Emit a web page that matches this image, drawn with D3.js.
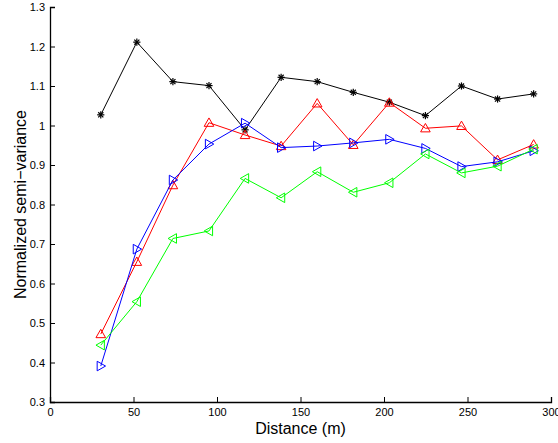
<!DOCTYPE html>
<html>
<head>
<meta charset="utf-8">
<script src="https://cdn.jsdelivr.net/npm/d3@7"></script>
<style>
  body { margin: 0; background: #fff; }
  svg text { font-family: "Liberation Sans", Arial, sans-serif; fill: #000; }
</style>
</head>
<body>
<svg id="chart" width="558" height="443"></svg>
<script>
// lag distances (m), shared by all series
const distances = [30.4, 52, 73.6, 95.2, 116.8, 138.4, 160, 181.6, 203.2, 224.8, 246.4, 268, 289.6];

const blackSeries = [1.027, 1.211, 1.111, 1.101, 0.989, 1.122, 1.111, 1.084, 1.059, 1.025, 1.100, 1.067, 1.080];
const redSeries   = [0.472, 0.655, 0.849, 1.007, 0.976, 0.948, 1.056, 0.951, 1.058, 0.993, 0.999, 0.913, 0.952];
const blueSeries  = [0.391, 0.687, 0.862, 0.953, 1.006, 0.944, 0.948, 0.956, 0.965, 0.942, 0.896, 0.908, 0.936];
const greenSeries = [0.444, 0.554, 0.714, 0.733, 0.866, 0.817, 0.883, 0.831, 0.855, 0.928, 0.880, 0.897, 0.940];

const xTicks = [0, 50, 100, 150, 200, 250, 300];
const yTicks = [0.3, 0.4, 0.5, 0.6, 0.7, 0.8, 0.9, 1, 1.1, 1.2, 1.3];

const series = [
  { values: blackSeries, color: '#000000', marker: 'star' },
  { values: redSeries,   color: '#ff0000', marker: 'up' },
  { values: blueSeries,  color: '#0000ff', marker: 'right' },
  { values: greenSeries, color: '#00ff00', marker: 'left' },
];

const svg = d3.select('#chart');
const plot = { left: 50, right: 551, top: 7, bottom: 402 };

const x = d3.scaleLinear().domain([0, 300]).range([plot.left, plot.right]);
const y = d3.scaleLinear().domain([0.3, 1.3]).range([plot.bottom, plot.top]);

// axes: MATLAB style, ticks pointing inward, no box
const xAxis = svg.append('g')
  .attr('transform', `translate(0,${plot.bottom})`)
  .call(d3.axisBottom(x).tickValues(xTicks).tickSize(-5).tickPadding(6).tickFormat(d3.format('d')));
const yAxis = svg.append('g')
  .attr('transform', `translate(${plot.left},0)`)
  .call(d3.axisLeft(y).tickValues(yTicks).tickSize(-5).tickPadding(5).tickFormat(d => String(+d.toFixed(1))));

[xAxis, yAxis].forEach(a => {
  a.select('.domain').attr('stroke', '#000').attr('stroke-width', 1.3);
  a.selectAll('.tick line').attr('stroke', '#000');
  a.selectAll('.tick text').attr('font-size', 11).attr('font-family', '"Liberation Sans", Arial, sans-serif').attr('fill', '#000');
});

const line = d3.line().x(d => x(d[0])).y(d => y(d[1]));

function drawMarker(g, px, py, kind, color) {
  const s = 4.8;
  if (kind === 'star') {
    const r = 3.6;
    for (let k = 0; k < 4; k++) {
      const a = k * Math.PI / 4;
      g.append('line')
        .attr('x1', px - r * Math.cos(a)).attr('y1', py - r * Math.sin(a))
        .attr('x2', px + r * Math.cos(a)).attr('y2', py + r * Math.sin(a))
        .attr('stroke', color).attr('stroke-width', 1.2);
    }
    return;
  }
  let pts;
  if (kind === 'up') pts = [[px, py - s], [px - s, py + s * 0.75], [px + s, py + s * 0.75]];
  else if (kind === 'right') pts = [[px + s, py], [px - s * 0.75, py - s], [px - s * 0.75, py + s]];
  else pts = [[px - s, py], [px + s * 0.75, py - s], [px + s * 0.75, py + s]];
  g.append('polygon')
    .attr('points', pts.map(p => p.join(',')).join(' '))
    .attr('fill', 'none').attr('stroke', color).attr('stroke-width', 1);
}

series.forEach(s => {
  const data = distances.map((d, i) => [d, s.values[i]]);
  const g = svg.append('g');
  g.append('path').datum(data)
    .attr('d', line).attr('fill', 'none').attr('stroke', s.color).attr('stroke-width', 1);
  data.forEach(d => drawMarker(g, x(d[0]), y(d[1]), s.marker, s.color));
});

svg.append('text')
  .attr('x', (plot.left + plot.right) / 2).attr('y', 434)
  .attr('text-anchor', 'middle').attr('font-size', 16)
  .text('Distance (m)');

svg.append('text')
  .attr('transform', `translate(26,${(plot.top + plot.bottom) / 2}) rotate(-90)`)
  .attr('text-anchor', 'middle').attr('font-size', 16)
  .text('Normalized semi\u2212variance');
</script>
</body>
</html>
